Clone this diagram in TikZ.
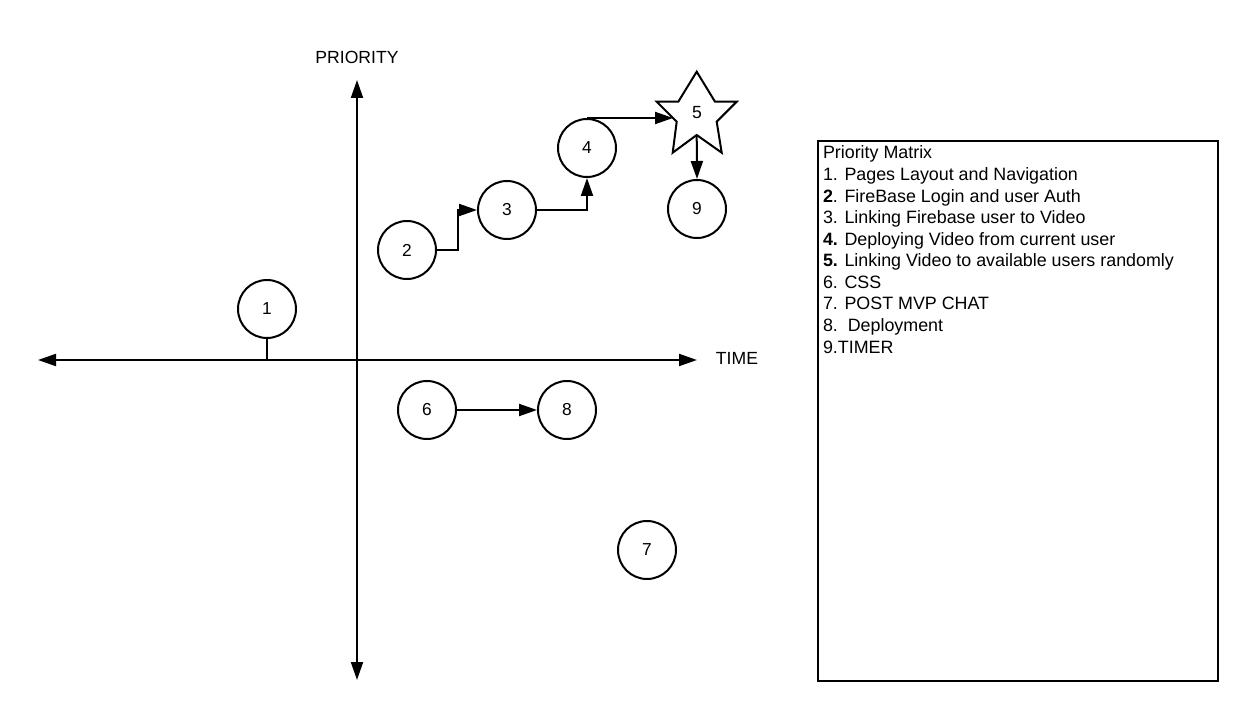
\documentclass[tikz,border=0pt]{standalone}
\usepackage{fontspec}
\setmainfont{Liberation Sans}
\usetikzlibrary{arrows.meta}
\begin{document}
\begin{tikzpicture}[x=0.75pt,y=-0.75pt,
  line width=1.5pt,
  >={Triangle[length=13.5pt,width=9pt]},
  num/.style={circle,draw,line width=1.5pt,minimum size=43.5pt,inner sep=0pt,font=\fontsize{13pt}{15pt}\selectfont},
  lbl/.style={inner sep=0pt,font=\fontsize{13.2pt}{15pt}\selectfont},
  conn/.style={line width=1.5pt}]
\useasboundingbox (0,0) rectangle (1257,720);
% axes
\coordinate (xl) at (38,360);
\coordinate (xr) at (697,360);
\coordinate (yt) at (357,80);
\coordinate (yb) at (357,680);
\draw[conn,<->] (xl) -- (xr);
\draw[conn,<->] (yt) -- (yb);
\node[lbl] (prio) at (357,57) {PRIORITY};
\node[lbl] (time) at (737,358) {TIME};
% circles
\node[num] (n1) at (267,309) {1};
\node[num] (n2) at (407,250) {2};
\node[num] (n3) at (507,210) {3};
\node[num] (n4) at (587,148) {4};
\node[num] (n9) at (697,209) {9};
\node[num] (n6) at (427,410) {6};
\node[num] (n8) at (567,410) {8};
\node[num] (n7) at (647,550) {7};
% star
\coordinate (sa) at (696.7,71.7);
\coordinate (sb) at (678.3,101.7);
\coordinate (sc) at (656.7,101.7);
\coordinate (sd) at (676.7,121.7);
\coordinate (se) at (672.7,152.7);
\coordinate (sf) at (696.7,135);
\coordinate (sg) at (721.7,152.7);
\coordinate (sh) at (716.7,121.7);
\coordinate (si) at (736.7,101.7);
\coordinate (sj) at (715,101.7);
\draw[line width=1.5pt,line join=miter] (sa) -- (sb) -- (sc) -- (sd) -- (se) -- (sf) -- (sg) -- (sh) -- (si) -- (sj) -- cycle;
\node[lbl] (s5) at (697,113) {5};
\coordinate (s5w) at (673,119);
% connectors
\draw[conn] (n1.south) -- (n1.south |- xl);
\draw[conn,->] (n2.east) -- ++(21,0) |- (n3.west);
\draw[conn,->] (n3.east) -| (n4.south);
\draw[conn,->] (n4.north) -- (n4.north -| s5w);
\draw[conn,->] (sf) -- (n9.north);
\draw[conn,->] (n6.east) -- (n8.west);
% legend box
\node[draw,line width=1.5pt,anchor=north west,minimum width=300pt,minimum height=405pt,inner sep=0pt] (box) at (817,140) {};
\node[anchor=base west,inner sep=0pt,font=\fontsize{13.4pt}{16.17pt}\selectfont] (legend) at (822,159) {\begin{tabular}[t]{@{}l@{}}Priority Matrix\\
1. Pages Layout and Navigation\\
\textbf{2}. FireBase Login and user Auth\\
3. Linking Firebase user to Video\\
\textbf{4.} Deploying Video from current user\\
\textbf{5.} Linking Video to available users randomly\\
6. CSS\\
7. POST MVP CHAT\\
8.\ \ Deployment\\
9.TIMER\end{tabular}};
\end{tikzpicture}
\end{document}
